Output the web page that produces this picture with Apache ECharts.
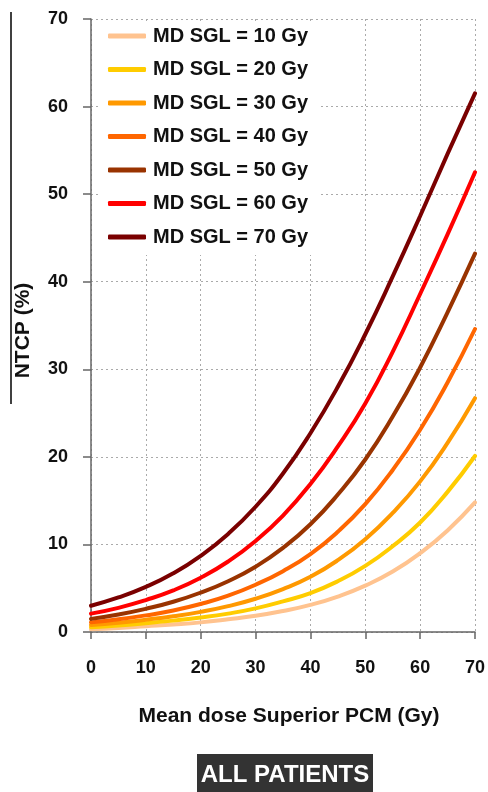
<!DOCTYPE html>
<html>
<head>
<meta charset="utf-8">
<script src="https://cdn.jsdelivr.net/npm/echarts@6/dist/echarts.min.js"></script>
<style>
html,body{margin:0;padding:0;background:#fff;}
#c{width:488px;height:792px;}
</style>
</head>
<body>
<div id="c"></div>
<script>
var doses = [0,5,10,15,20,25,30,35,40,45,50,55,60,65,70];
var seriesNames = ['MD SGL = 10 Gy','MD SGL = 20 Gy','MD SGL = 30 Gy','MD SGL = 40 Gy','MD SGL = 50 Gy','MD SGL = 60 Gy','MD SGL = 70 Gy'];
var seriesColors = ['#FFC38F','#FFCC00','#FF9900','#FF6600','#993300','#FF0000','#7A0000'];
var md10 = [0.3,0.45,0.65,0.85,1.1,1.45,1.85,2.4,3.1,4.05,5.3,6.9,9.0,11.6,14.8];
var md20 = [0.55,0.75,1.0,1.3,1.65,2.1,2.7,3.5,4.45,5.8,7.55,9.8,12.5,16.0,20.1];
var md30 = [0.8,1.05,1.4,1.8,2.3,2.95,3.8,4.9,6.3,8.2,10.6,13.6,17.2,21.6,26.7];
var md40 = [1.1,1.45,1.9,2.45,3.2,4.15,5.4,6.95,8.9,11.45,14.6,18.5,23.1,28.5,34.6];
var md50 = [1.5,2.0,2.65,3.45,4.5,5.8,7.45,9.6,12.3,15.7,19.7,24.6,30.2,36.5,43.2];
var md60 = [2.1,2.76,3.65,4.75,6.2,8.05,10.4,13.3,16.9,21.2,26.1,32.0,38.6,45.4,52.5];
var md70 = [3.0,3.95,5.15,6.7,8.7,11.2,14.3,18.1,22.7,28.0,34.0,40.6,47.5,54.6,61.5];
var allValues = [md10,md20,md30,md40,md50,md60,md70];
var xTicks = [0,10,20,30,40,50,60,70];
var yTicks = [0,10,20,30,40,50,60,70];

var FONT = 'Arial, "Liberation Sans", sans-serif';
var chart = echarts.init(document.getElementById('c'), null, {renderer:'canvas'});

var series = allValues.map(function(vals, i){
  return {
    name: seriesNames[i],
    type: 'line',
    smooth: true,
    showSymbol: false,
    symbol: 'none',
    color: seriesColors[i],
    lineStyle: {width: 4, color: seriesColors[i], cap: 'round'},
    data: doses.map(function(d, j){ return [d, vals[j]]; }),
    z: 3
  };
});

chart.setOption({
  animation: false,
  backgroundColor: '#fff',
  grid: {left: 91, right: 12, top: 19, bottom: 160, containLabel: false},
  legend: {
    orient: 'vertical',
    left: 100,
    top: 22,
    padding: [4, 12, 8, 8],
    backgroundColor: '#fff',
    itemWidth: 38,
    itemHeight: 5,
    itemGap: 13.5,
    icon: 'roundRect',
    data: seriesNames,
    textStyle: {fontFamily: FONT, fontWeight: 'bold', fontSize: 20, color: '#111', lineHeight: 20, padding: [0,0,0,2]},
    z: 10
  },
  xAxis: {
    type: 'value',
    min: xTicks[0], max: xTicks[xTicks.length-1], interval: 10,
    name: 'Mean dose Superior PCM (Gy)',
    nameLocation: 'middle',
    nameGap: 74,
    nameTextStyle: {fontFamily: FONT, fontWeight: 'bold', fontSize: 21, color: '#111', padding: [0,0,0,12]},
    axisLine: {show: true, onZero: false, lineStyle: {color: '#666', width: 1.5}},
    axisTick: {show: true, length: 7, lineStyle: {color: '#666', width: 1.5}},
    axisLabel: {margin: 27, fontFamily: FONT, fontWeight: 'bold', fontSize: 18, color: '#111'},
    splitLine: {show: true, lineStyle: {color: '#aaa', type: [2,3], width: 1}}
  },
  yAxis: {
    type: 'value',
    min: yTicks[0], max: yTicks[yTicks.length-1], interval: 10,
    name: 'NTCP (%)',
    nameLocation: 'middle',
    nameGap: 57,
    nameTextStyle: {fontFamily: FONT, fontWeight: 'bold', fontSize: 21, color: '#111', padding: [0,10,0,0]},
    axisLine: {show: true, lineStyle: {color: '#666', width: 1.5}},
    axisTick: {show: true, length: 8, lineStyle: {color: '#666', width: 1.5}},
    axisLabel: {margin: 23, fontFamily: FONT, fontWeight: 'bold', fontSize: 18, color: '#111'},
    splitLine: {show: true, lineStyle: {color: '#aaa', type: [2,3], width: 1}}
  },
  graphic: [
    {type: 'line', shape: {x1: 11, y1: 12, x2: 11, y2: 404}, style: {stroke: '#000', lineWidth: 1.5}},
    {type: 'rect', shape: {x: 197, y: 754, width: 176, height: 40}, style: {fill: '#333'}},
    {type: 'text', x: 285, y: 775, style: {text: 'ALL PATIENTS', fill: '#fff', font: 'bold 24px ' + FONT, textAlign: 'center', textVerticalAlign: 'middle'}}
  ],
  series: series
});
</script>
</body>
</html>
